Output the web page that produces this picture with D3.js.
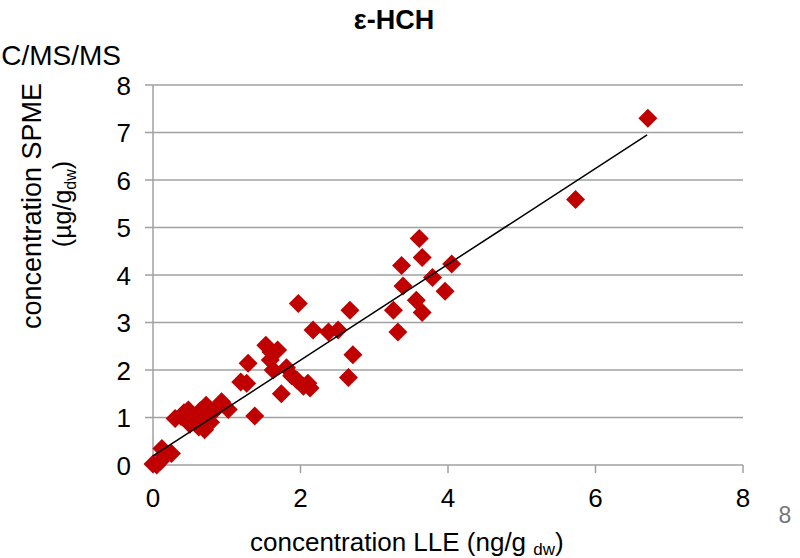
<!DOCTYPE html>
<html>
<head>
<meta charset="utf-8">
<script src="https://cdn.jsdelivr.net/npm/d3@7"></script>
<style>
  body { margin: 0; background: #fff; }
  svg { display: block; font-family: 'Liberation Sans', Arial, sans-serif; }
</style>
</head>
<body>
<svg id="fig" width="800" height="558"></svg>
<script>
'use strict';

// LLE vs SPME concentrations
const lle = [
    0.00, 0.05, 0.10, 0.12, 0.25, 0.15,
    0.30, 0.38, 0.42, 0.48, 0.56, 0.50, 0.62, 0.70, 0.78, 0.64, 0.72, 0.82, 0.68,
    0.93, 1.02, 1.38,
    1.19, 1.27, 1.29, 1.53, 1.60, 1.69, 1.59, 1.63, 1.81, 1.88, 1.95, 2.04, 2.10, 2.13, 1.74,
    2.17, 2.38, 2.51, 1.97, 2.67, 2.71, 2.65,
    3.26, 3.32, 3.37, 3.39, 3.57, 3.65, 3.61, 3.65, 3.79, 3.96, 4.05,
    5.73, 6.71
];
const spme = [
    0.02, 0.00, 0.08, 0.35, 0.24, 0.20,
    0.98, 1.02, 1.10, 1.16, 0.95, 0.86, 0.80, 0.74, 0.90, 1.14, 1.26, 1.12, 1.02,
    1.33, 1.17, 1.03,
    1.75, 1.72, 2.14, 2.52, 2.38, 2.42, 2.21, 2.00, 2.05, 1.88, 1.79, 1.66, 1.72, 1.62, 1.50,
    2.84, 2.80, 2.84, 3.40, 3.26, 2.32, 1.84,
    3.26, 2.80, 4.20, 3.77, 3.47, 3.21, 4.77, 4.37, 3.95, 3.66, 4.23,
    5.59, 7.30
];
// linear trendline end points
const trend_x = [0, 6.7];
const trend_y = [0.19, 6.95];

const x_ticks = [0, 2, 4, 6, 8];
const y_ticks = [0, 1, 2, 3, 4, 5, 6, 7, 8];

const fig = {
    svg: d3.select('#fig'),
    left: 153, right: 743, top: 85, bottom: 465,
    color_point: '#C00000',
    color_grid: '#a0a0a0',
    r_point: 9.5,
    font_size: 26,

    draw: function() {
        const svg = this.svg;
        const x = d3.scaleLinear().domain([0, 8]).range([this.left, this.right]);
        const y = d3.scaleLinear().domain([0, 8]).range([this.bottom, this.top]);

        // horizontal grid lines
        svg.append('g')
            .selectAll('line')
            .data(y_ticks)
            .enter()
            .append('line')
            .attr('x1', this.left - 8)
            .attr('x2', this.right)
            .attr('y1', d => y(d))
            .attr('y2', d => y(d))
            .attr('stroke', this.color_grid)
            .attr('stroke-width', 1.5);

        // vertical axis line
        svg.append('line')
            .attr('x1', x(0)).attr('x2', x(0))
            .attr('y1', y(8)).attr('y2', y(0) + 8)
            .attr('stroke', this.color_grid)
            .attr('stroke-width', 1.5);

        // x axis ticks
        svg.append('g')
            .selectAll('line')
            .data(x_ticks.slice(1))
            .enter()
            .append('line')
            .attr('x1', d => x(d)).attr('x2', d => x(d))
            .attr('y1', y(0)).attr('y2', y(0) + 8)
            .attr('stroke', this.color_grid)
            .attr('stroke-width', 1.5);

        // tick labels
        svg.append('g')
            .selectAll('text')
            .data(y_ticks)
            .enter()
            .append('text')
            .attr('x', 131)
            .attr('y', d => y(d) + 9.5)
            .attr('font-size', this.font_size)
            .attr('text-anchor', 'end')
            .text(d => d);
        svg.append('g')
            .selectAll('text')
            .data(x_ticks)
            .enter()
            .append('text')
            .attr('x', d => x(d))
            .attr('y', 507)
            .attr('font-size', this.font_size)
            .attr('text-anchor', 'middle')
            .text(d => d);

        // points
        const pts = lle.map((v, i) => ({x: v, y: spme[i]}));
        const r = this.r_point;
        svg.append('g')
            .selectAll('path')
            .data(pts)
            .enter()
            .append('path')
            .attr('d', d => {
                const cx = x(d.x), cy = y(d.y);
                return 'M' + cx + ',' + (cy - r) + 'L' + (cx + r) + ',' + cy +
                    'L' + cx + ',' + (cy + r) + 'L' + (cx - r) + ',' + cy + 'Z';
            })
            .attr('fill', this.color_point);

        // trendline
        svg.append('line')
            .attr('x1', x(trend_x[0])).attr('y1', y(trend_y[0]))
            .attr('x2', x(trend_x[1])).attr('y2', y(trend_y[1]))
            .attr('stroke', '#000')
            .attr('stroke-width', 1.5);

        this._draw_labels();
    },

    _draw_labels: function() {
        const svg = this.svg;
        svg.append('text')
            .attr('x', 394).attr('y', 29)
            .attr('font-size', 27)
            .attr('font-weight', 'bold')
            .attr('text-anchor', 'middle')
            .text('ε-HCH');

        // left part runs off the page, as in the source
        svg.append('text')
            .attr('x', 121).attr('y', 65)
            .attr('font-size', 28)
            .attr('text-anchor', 'end')
            .text('GC/MS/MS');

        // y axis title, two lines
        svg.append('text')
            .attr('transform', 'translate(41, 206) rotate(-90)')
            .attr('font-size', 27)
            .attr('text-anchor', 'middle')
            .text('concentration SPME');
        const yl2 = svg.append('text')
            .attr('transform', 'translate(71, 204) rotate(-90)')
            .attr('font-size', 25)
            .attr('text-anchor', 'middle');
        yl2.append('tspan').text('(µg/g');
        yl2.append('tspan').attr('font-size', 16).attr('dy', 5).text('dw');
        yl2.append('tspan').attr('dy', -5).text(')');

        // x axis title
        const xl = svg.append('text')
            .attr('x', 250).attr('y', 551)
            .attr('font-size', 26)
            .attr('text-anchor', 'start');
        xl.append('tspan').text('concentration LLE (ng/g ');
        xl.append('tspan').attr('font-size', 17).attr('dy', 4).text('dw');
        xl.append('tspan').attr('dy', -4).text(')');

        // stray page number
        svg.append('text')
            .attr('x', 785).attr('y', 523)
            .attr('font-size', 23)
            .attr('fill', '#777')
            .attr('text-anchor', 'middle')
            .text('8');
    }
};

fig.draw();
</script>
</body>
</html>
